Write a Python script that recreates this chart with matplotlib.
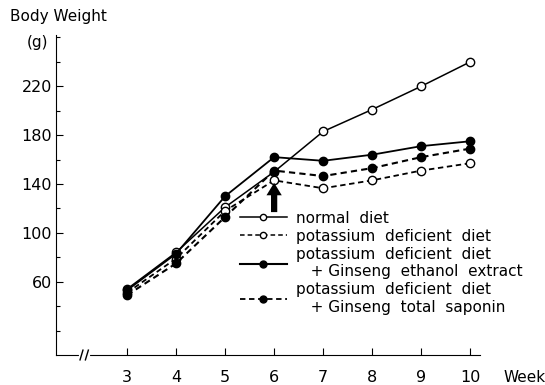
import matplotlib
matplotlib.use("Agg")
import matplotlib.pyplot as plt
from matplotlib.lines import Line2D

## data (body weight in g per week)
weeks = [3, 4, 5, 6, 7, 8, 9, 10]
normal = [54, 84, 121, 150, 183, 201, 220, 240]
k_deficient = [51, 79, 118, 143, 136.5, 143, 151, 157]
ginseng_ethanol = [53, 83, 130, 162, 159, 164, 171, 175]
ginseng_saponin = [49, 75, 113, 151, 146.5, 153, 162, 169]

yticks = [60, 100, 140, 180, 220]
yminor = [20, 40, 80, 120, 160, 200, 240, 260]
labels = ["normal  diet",
          "potassium  deficient  diet",
          "potassium  deficient  diet\n   + Ginseng  ethanol  extract",
          "potassium  deficient  diet\n   + Ginseng  total  saponin"]

plt.rcParams['font.family'] = ['DejaVu Sans']

fig = plt.figure(figsize=(5.45, 3.85), dpi=100)
W, H = 545, 385
ax = fig.add_axes([56 / W, 1 - 355 / H, (480 - 56) / W, (355 - 35) / H])

dash = (0, (3, 2))
l1, = ax.plot(weeks, normal, color='k', lw=1.1, marker='o', ms=6,
              mfc='white', mec='k', mew=1.0)
l2, = ax.plot(weeks, k_deficient, color='k', lw=1.3, ls=dash, marker='o', ms=6,
              mfc='white', mec='k', mew=1.0)
l3, = ax.plot(weeks, ginseng_ethanol, color='k', lw=1.3, marker='o', ms=6,
              mfc='k', mec='k')
l4, = ax.plot(weeks, ginseng_saponin, color='k', lw=1.5, ls=dash, marker='o', ms=6,
              mfc='k', mec='k')

ax.set_xlim(1.55, 10.2)
ax.set_ylim(0, 262)
ax.set_xticks(weeks)
ax.set_yticks(yticks)
ax.set_yticks(yminor, minor=True)
ax.tick_params(axis='both', direction='in', length=5, width=0.8, labelsize=11.5)
ax.tick_params(axis='y', which='minor', direction='in', length=3, width=0.8)
ax.tick_params(axis='x', pad=11)
ax.tick_params(axis='y', pad=3)
for s in ['top', 'right']:
    ax.spines[s].set_visible(False)

# axis break marks on the x axis
ax.plot([2.05, 2.2], [0, 0], color='white', lw=3, clip_on=False, zorder=5)
for bx in [2.07, 2.18]:
    ax.plot([bx - 0.03, bx + 0.03], [-4, 4], color='k', lw=1, clip_on=False, zorder=6)

# arrow under week 6
ax.annotate('', xy=(6, 141), xytext=(6, 117),
            arrowprops=dict(arrowstyle='simple,head_width=1.1,head_length=0.9,tail_width=0.45',
                            color='k', lw=0, shrinkA=0, shrinkB=0))

# legend
h1 = Line2D([], [], color='k', lw=1.1, marker='o', ms=4.5, mfc='white', mec='k')
h2 = Line2D([], [], color='k', lw=1.1, ls=dash, marker='o', ms=4.5, mfc='white', mec='k')
h3 = Line2D([], [], color='k', lw=1.5, marker='o', ms=5, mfc='k', mec='k')
h4 = Line2D([], [], color='k', lw=1.3, ls=dash, marker='o', ms=5, mfc='k', mec='k')
fig.legend([h1, h2, h3, h4], labels, loc='upper left',
           bbox_to_anchor=(232 / W, 1 - 203 / H), frameon=False,
           fontsize=11, handlelength=3.1, handletextpad=0.6,
           labelspacing=0.2, borderpad=0)

fig.text(10 / W, 1 - 17 / H, "Body Weight", fontsize=11, va='center', ha='left')
fig.text(27 / W, 1 - 43 / H, "(g)", fontsize=11, va='center', ha='left')
fig.text(503 / W, 1 - 378 / H, "Week", fontsize=11, va='center', ha='left')

fig.savefig("out.png", dpi=100)
